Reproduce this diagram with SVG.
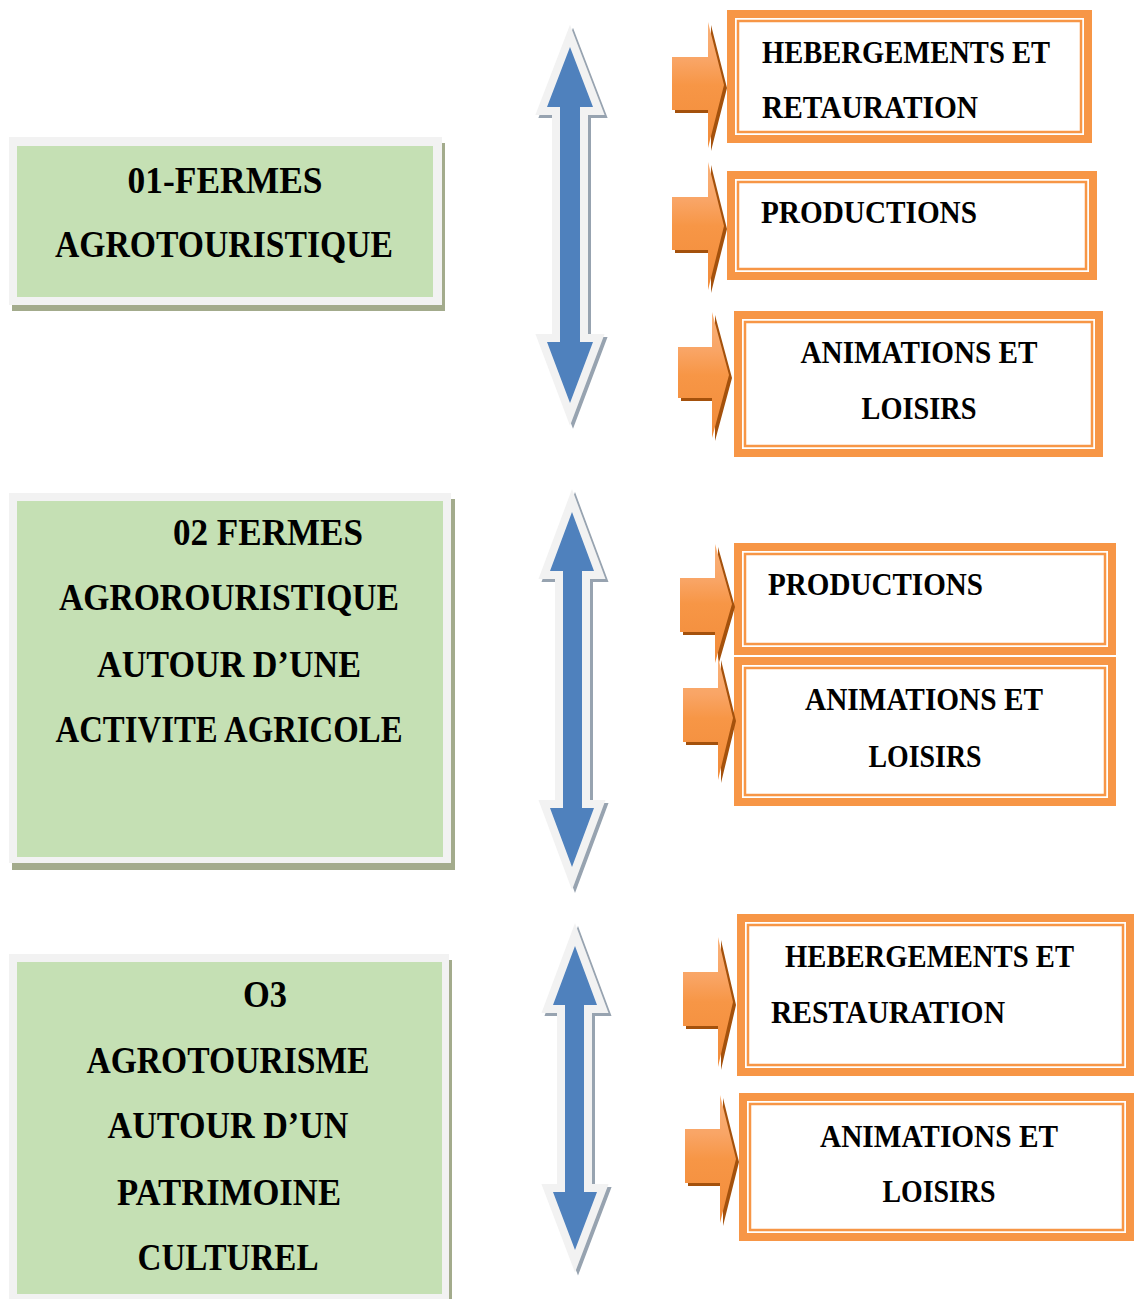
<svg xmlns="http://www.w3.org/2000/svg" width="1134" height="1299" viewBox="0 0 1134 1299">
<defs>
<style>
.gshadow{fill:#a3ab8c}
.gframe{fill:#f2f2f2}
.gfill{fill:#c5e0b4}
.gt{font-family:"Liberation Serif","Times New Roman",serif;font-weight:bold;font-size:38px;fill:#000;text-anchor:middle}
.ot{font-family:"Liberation Serif","Times New Roman",serif;font-weight:bold;font-size:31px;fill:#000}
.oc{text-anchor:middle}
.oframe{fill:#f79646}
.owhite{fill:#fff}
.oline{fill:none;stroke:#f79646;stroke-width:2.5}
.barrow{fill:#4f81bd;stroke:#f2f2f2;stroke-width:16;paint-order:stroke;stroke-linejoin:miter;stroke-miterlimit:6}
.bshadow{fill:#97a3b0;stroke:#97a3b0;stroke-width:16;stroke-linejoin:miter;stroke-miterlimit:6}
.oarrow{fill:url(#og)}
.oshadow{fill:#a4510c}
</style>
<linearGradient id="og" x1="0" y1="0" x2="0" y2="1">
<stop offset="0" stop-color="#f9b27a"/>
<stop offset="0.3" stop-color="#f9a566"/>
<stop offset="0.5" stop-color="#f79646"/>
<stop offset="1" stop-color="#f28c3a"/>
</linearGradient>
</defs>
<rect width="1134" height="1299" fill="#fff"/>

<!-- Green nodes -->
<g id="node-fermes01">
<rect class="gshadow" x="12" y="143" width="433" height="168"/>
<rect class="gframe" x="9" y="137" width="433" height="168"/>
<rect class="gfill" x="17" y="146" width="416" height="151"/>
<text class="gt" x="225" y="193" textLength="195" lengthAdjust="spacingAndGlyphs">01-FERMES</text>
<text class="gt" x="224" y="257" textLength="338" lengthAdjust="spacingAndGlyphs">AGROTOURISTIQUE</text>
</g>
<g id="node-fermes02">
<rect class="gshadow" x="12" y="499" width="443" height="371"/>
<rect class="gframe" x="9" y="493" width="442" height="370"/>
<rect class="gfill" x="17" y="501" width="426" height="356"/>
<text class="gt" x="268" y="545" textLength="190" lengthAdjust="spacingAndGlyphs">02 FERMES</text>
<text class="gt" x="229" y="610" textLength="340" lengthAdjust="spacingAndGlyphs">AGROROURISTIQUE</text>
<text class="gt" x="229" y="677" textLength="264" lengthAdjust="spacingAndGlyphs">AUTOUR D’UNE</text>
<text class="gt" x="229" y="742" textLength="347" lengthAdjust="spacingAndGlyphs">ACTIVITE AGRICOLE</text>
</g>
<g id="node-agrotourisme03">
<rect class="gshadow" x="12" y="960" width="440" height="339"/>
<rect class="gframe" x="9" y="954" width="440" height="345"/>
<rect class="gfill" x="17" y="962" width="425" height="332"/>
<text class="gt" x="265" y="1007" textLength="44" lengthAdjust="spacingAndGlyphs">O3</text>
<text class="gt" x="228" y="1073" textLength="283" lengthAdjust="spacingAndGlyphs">AGROTOURISME</text>
<text class="gt" x="228" y="1138" textLength="241" lengthAdjust="spacingAndGlyphs">AUTOUR D’UN</text>
<text class="gt" x="229" y="1205" textLength="224" lengthAdjust="spacingAndGlyphs">PATRIMOINE</text>
<text class="gt" x="228" y="1270" textLength="181" lengthAdjust="spacingAndGlyphs">CULTUREL</text>
</g>

<!-- Orange nodes -->
<g id="node-hebergement1">
<rect class="oframe" x="727" y="10" width="365" height="133"/>
<rect class="owhite" x="735" y="18" width="349" height="117"/>
<rect class="oline" x="738" y="21" width="343" height="111"/>
<text class="ot" x="762" y="63" textLength="288" lengthAdjust="spacingAndGlyphs">HEBERGEMENTS ET</text>
<text class="ot" x="762" y="118" textLength="216" lengthAdjust="spacingAndGlyphs">RETAURATION</text>
</g>
<g id="node-productions1">
<rect class="oframe" x="727" y="171" width="370" height="109"/>
<rect class="owhite" x="735" y="179" width="354" height="93"/>
<rect class="oline" x="738" y="182" width="348" height="87"/>
<text class="ot" x="761" y="223" textLength="216" lengthAdjust="spacingAndGlyphs">PRODUCTIONS</text>
</g>
<g id="node-animations1">
<rect class="oframe" x="734" y="311" width="369" height="146"/>
<rect class="owhite" x="742" y="319" width="353" height="130"/>
<rect class="oline" x="745" y="322" width="347" height="124"/>
<text class="ot oc" x="919" y="363" textLength="237" lengthAdjust="spacingAndGlyphs">ANIMATIONS ET</text>
<text class="ot oc" x="919" y="419" textLength="115" lengthAdjust="spacingAndGlyphs">LOISIRS</text>
</g>
<g id="node-productions2">
<rect class="oframe" x="734" y="543" width="382" height="112"/>
<rect class="owhite" x="742" y="551" width="366" height="96"/>
<rect class="oline" x="745" y="554" width="360" height="90"/>
<text class="ot" x="768" y="595" textLength="215" lengthAdjust="spacingAndGlyphs">PRODUCTIONS</text>
</g>
<g id="node-animations2">
<rect class="oframe" x="734" y="657" width="382" height="149"/>
<rect class="owhite" x="742" y="665" width="366" height="133"/>
<rect class="oline" x="745" y="668" width="360" height="127"/>
<text class="ot oc" x="924" y="710" textLength="238" lengthAdjust="spacingAndGlyphs">ANIMATIONS ET</text>
<text class="ot oc" x="925" y="767" textLength="113" lengthAdjust="spacingAndGlyphs">LOISIRS</text>
</g>
<g id="node-hebergement3">
<rect class="oframe" x="737" y="914" width="397" height="162"/>
<rect class="owhite" x="745" y="922" width="381" height="146"/>
<rect class="oline" x="748" y="925" width="375" height="140"/>
<text class="ot" x="785" y="967" textLength="289" lengthAdjust="spacingAndGlyphs">HEBERGEMENTS ET</text>
<text class="ot" x="771" y="1023" textLength="234" lengthAdjust="spacingAndGlyphs">RESTAURATION</text>
</g>
<g id="node-animations3">
<rect class="oframe" x="739" y="1093" width="395" height="148"/>
<rect class="owhite" x="747" y="1101" width="379" height="132"/>
<rect class="oline" x="750" y="1104" width="373" height="126"/>
<text class="ot oc" x="939" y="1147" textLength="238" lengthAdjust="spacingAndGlyphs">ANIMATIONS ET</text>
<text class="ot oc" x="939" y="1202" textLength="113" lengthAdjust="spacingAndGlyphs">LOISIRS</text>
</g>

<!-- Connectors -->
<g id="connectors">
<g transform="translate(3,3)">
<polygon class="bshadow" points="570,47 593,107 580,107 580,342 593,342 570,403 547,342 560,342 560,107 547,107"/>
<polygon class="bshadow" points="572,512 594,571 582,571 582,808 594,808 572,867 550,808 563,808 563,571 550,571"/>
<polygon class="bshadow" points="575,946 597,1005 584,1005 584,1192 597,1192 575,1250 553,1192 565,1192 565,1005 553,1005"/>
</g>
<polygon class="barrow" points="570,47 593,107 580,107 580,342 593,342 570,403 547,342 560,342 560,107 547,107"/>
<polygon class="barrow" points="572,512 594,571 582,571 582,808 594,808 572,867 550,808 563,808 563,571 550,571"/>
<polygon class="barrow" points="575,946 597,1005 584,1005 584,1192 597,1192 575,1250 553,1192 565,1192 565,1005 553,1005"/>

<g transform="translate(3,3)">
<path class="oshadow" d="M672,57H708V22L724,85L708,148V110H672Z"/>
<path class="oshadow" d="M672,197H708V162L724,226L708,290V250H672Z"/>
<path class="oshadow" d="M678,347H712V312L729,375L712,438V398H678Z"/>
<path class="oshadow" d="M680,578H715V544L732,604L715,663V632H680Z"/>
<path class="oshadow" d="M683,688H718V657L733,718L718,780V742H683Z"/>
<path class="oshadow" d="M683,972H718V937L733,1002L718,1067V1026H683Z"/>
<path class="oshadow" d="M685,1129H720V1095L736,1159L720,1223V1183H685Z"/>
</g>
<path class="oarrow" d="M672,57H708V22L724,85L708,148V110H672Z"/>
<path class="oarrow" d="M672,197H708V162L724,226L708,290V250H672Z"/>
<path class="oarrow" d="M678,347H712V312L729,375L712,438V398H678Z"/>
<path class="oarrow" d="M680,578H715V544L732,604L715,663V632H680Z"/>
<path class="oarrow" d="M683,688H718V657L733,718L718,780V742H683Z"/>
<path class="oarrow" d="M683,972H718V937L733,1002L718,1067V1026H683Z"/>
<path class="oarrow" d="M685,1129H720V1095L736,1159L720,1223V1183H685Z"/>
</g>
</svg>
